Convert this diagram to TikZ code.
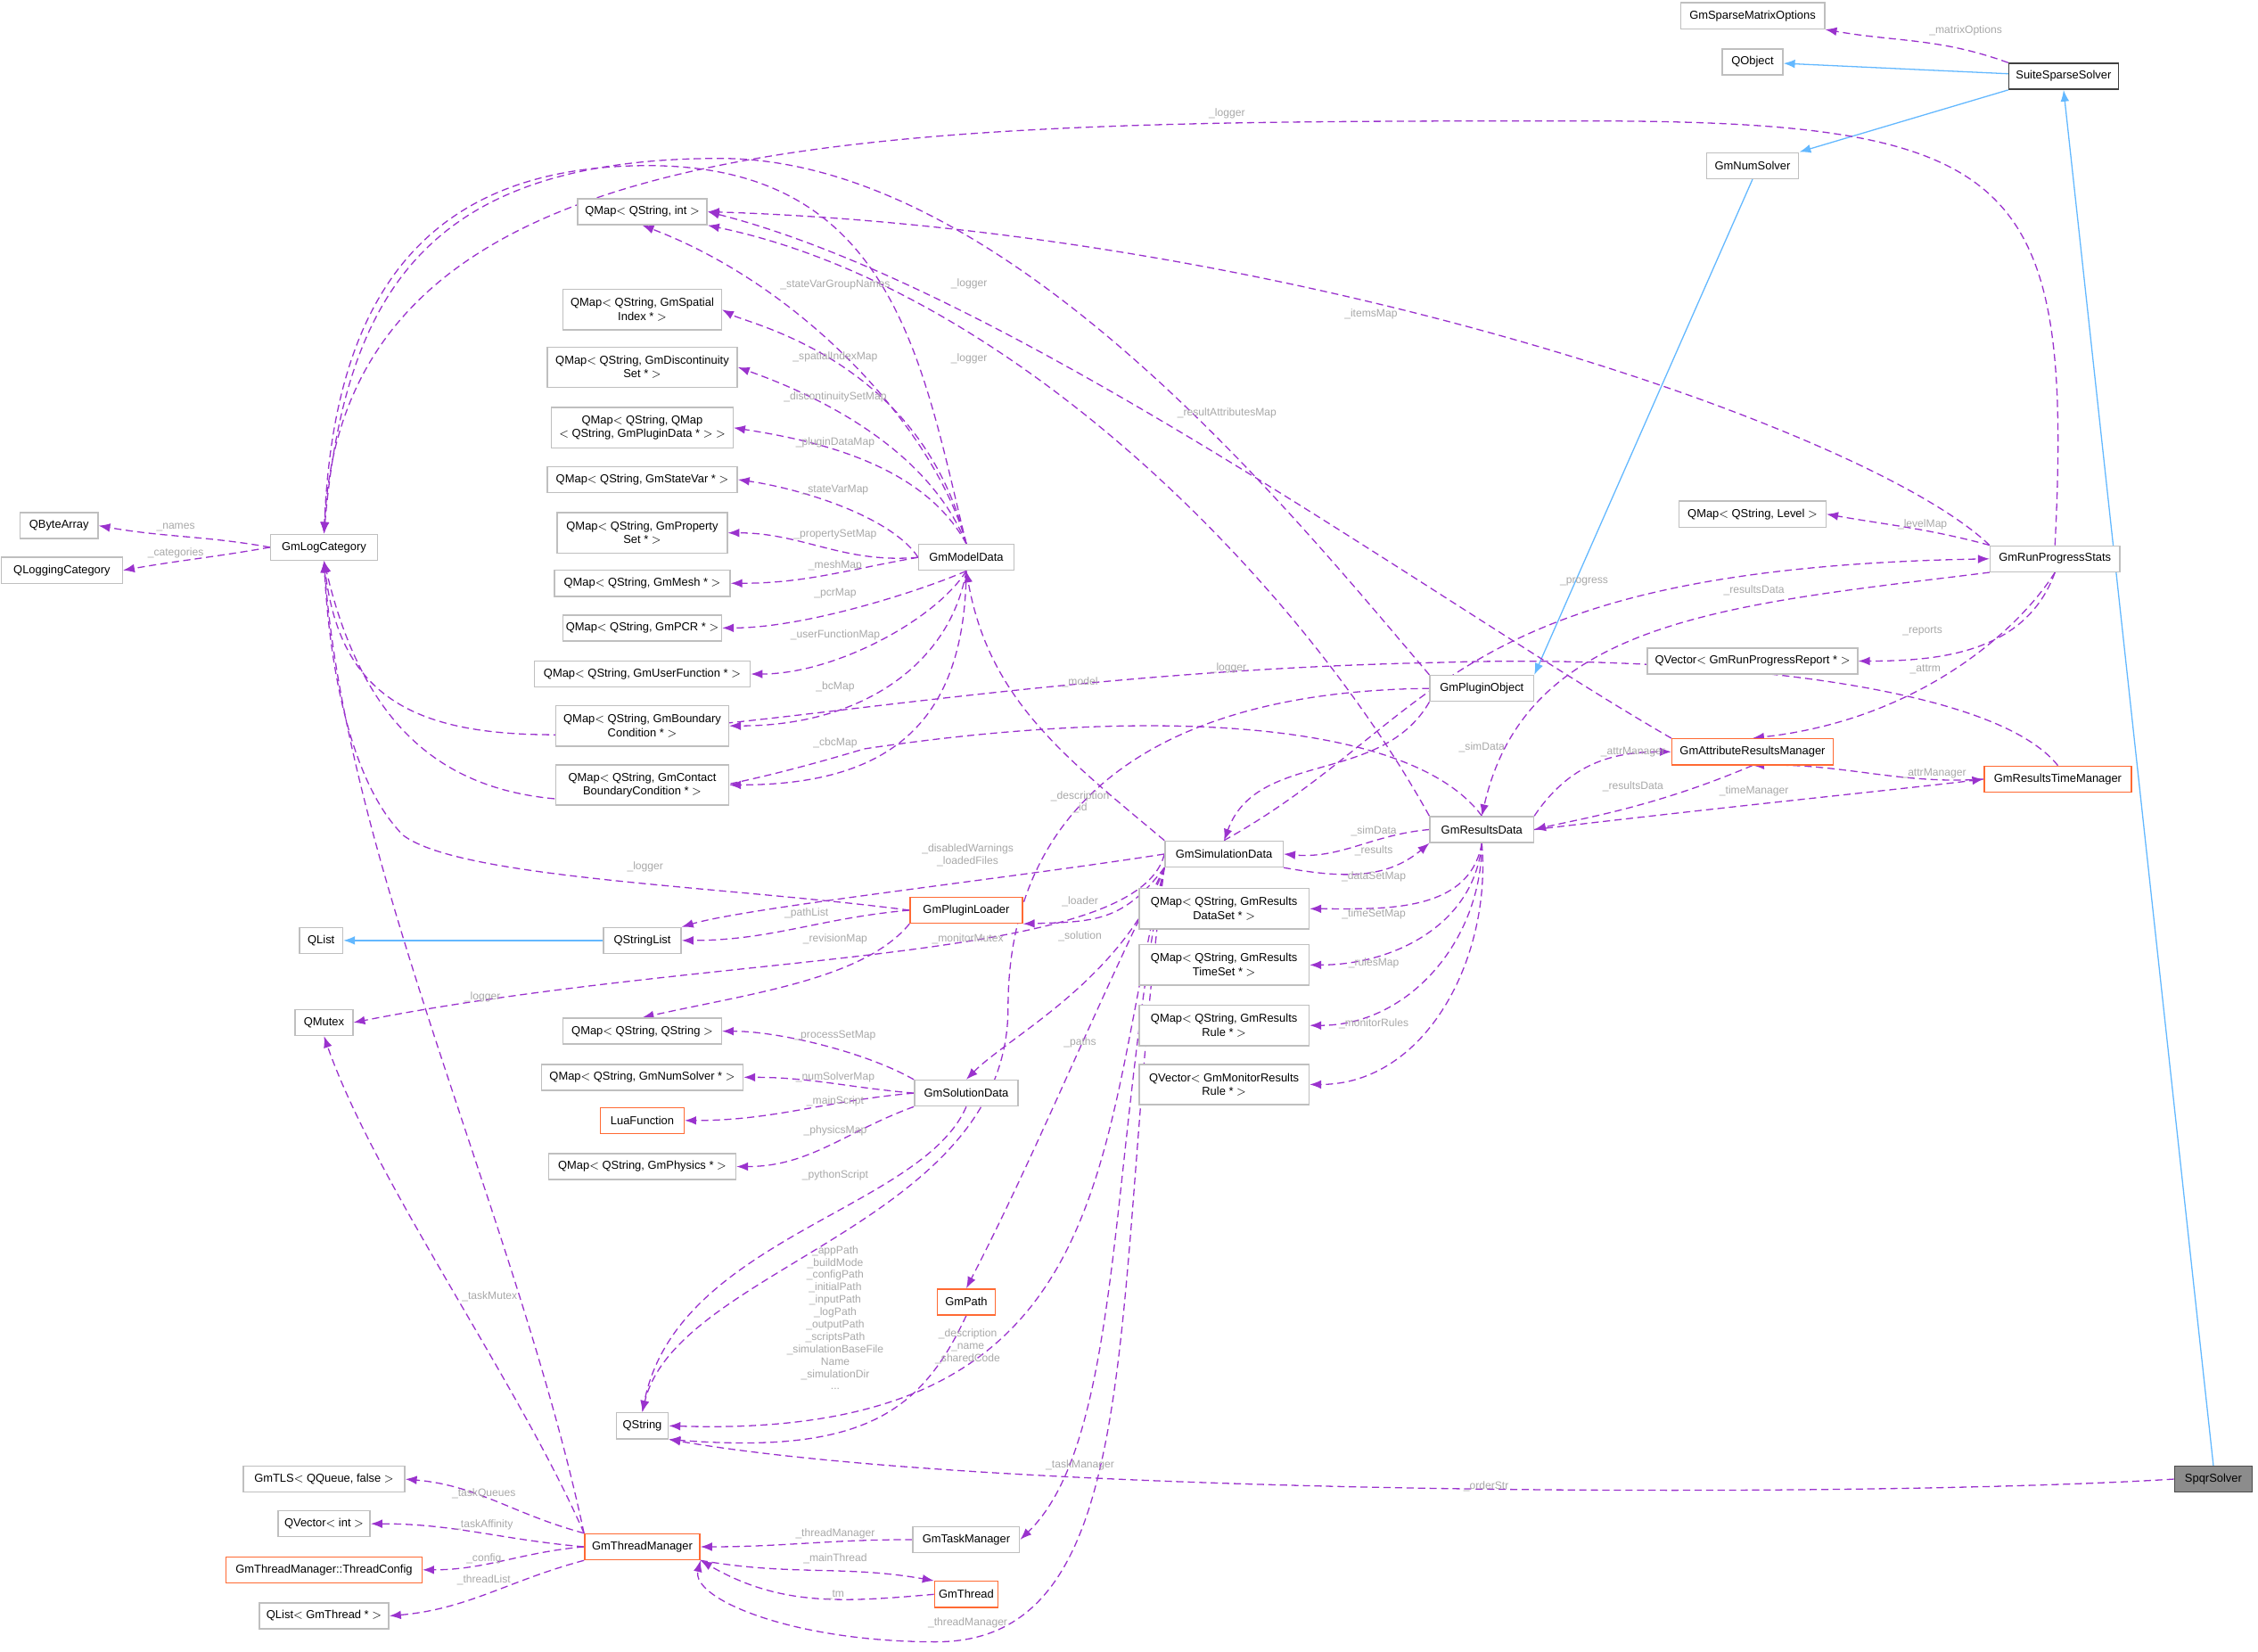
\documentclass[tikz,border=0pt]{standalone}
\usepackage{fontspec}
\setmainfont{Liberation Sans}
\usetikzlibrary{arrows.meta}
\definecolor{pur}{HTML}{9A32CD}
\definecolor{bord}{HTML}{BFBFBF}
\definecolor{org}{HTML}{FF6A33}
\definecolor{inhc}{HTML}{63B8FF}
\definecolor{lblc}{HTML}{A8A8A8}
\pgfdeclarelayer{bg}
\pgfsetlayers{bg,main}
\begin{document}
\begin{tikzpicture}[x=1pt,y=1pt,
 box/.style={draw=bord,fill=white,line width=0.9pt,minimum height=18pt,inner sep=2pt,font=\fontsize{8}{9.5}\selectfont,align=center},
 two/.style={box,minimum height=28pt},
 obox/.style={box,draw=org},
 dep/.style={draw=pur,dashed,dash pattern=on 5pt off 3pt,line width=0.8pt,-{Latex[length=8pt,width=6pt]}},
 inh/.style={draw=inhc,line width=0.8pt,-{Latex[length=8pt,width=6pt]}},
 lbl/.style={text=lblc,font=\fontsize{7.5}{8.6}\selectfont,align=center,inner sep=0pt}]
\useasboundingbox (0,0) rectangle (1568,-1147);
% nodes
\node[box,minimum width=100pt] (gsmo) at (1217,-11) {GmSparseMatrixOptions};
\node[box,minimum width=42pt] (qobj) at (1217,-43) {QObject};
\node[box,draw=black!75,minimum width=76pt] (suite) at (1433,-53) {SuiteSparseSolver};
\node[box,minimum width=64pt] (nums) at (1217,-115) {GmNumSolver};
\node[box,minimum width=90pt] (qmapint) at (446,-147) {QMap$<$ QString, int $>$};
\node[two,minimum width=110pt] (m1) at (446,-215) {QMap$<$ QString, GmSpatial\\Index * $>$};
\node[two,minimum width=132pt] (m2) at (446,-255) {QMap$<$ QString, GmDiscontinuity\\Set * $>$};
\node[two,minimum width=126pt] (m3) at (446,-297) {QMap$<$ QString, QMap\\$<$ QString, GmPluginData * $>$ $>$};
\node[box,minimum width=132pt] (m4) at (446,-333) {QMap$<$ QString, GmStateVar * $>$};
\node[two,minimum width=118pt] (m5) at (446,-370) {QMap$<$ QString, GmProperty\\Set * $>$};
\node[box,minimum width=122pt] (m6) at (446,-405) {QMap$<$ QString, GmMesh * $>$};
\node[box,minimum width=110pt] (m7) at (446,-436) {QMap$<$ QString, GmPCR * $>$};
\node[box,minimum width=150pt] (m8) at (446,-468) {QMap$<$ QString, GmUserFunction * $>$};
\node[two,minimum width=120pt] (m9) at (446,-504) {QMap$<$ QString, GmBoundary\\Condition * $>$};
\node[two,minimum width=120pt] (m10) at (446,-545) {QMap$<$ QString, GmContact\\BoundaryCondition * $>$};
\node[box,minimum width=54pt] (qba) at (41,-365) {QByteArray};
\node[box,minimum width=84pt] (qlc) at (43,-396) {QLoggingCategory};
\node[box,minimum width=74pt] (logcat) at (225,-380) {GmLogCategory};
\node[box,minimum width=66pt] (model) at (671,-387) {GmModelData};
\node[box,minimum width=30pt] (qlist) at (223,-653) {QList};
\node[box,minimum width=54pt] (qsl) at (446,-653) {QStringList};
\node[obox,minimum width=78pt] (loader) at (671,-632) {GmPluginLoader};
\node[box,minimum width=40pt] (qmutex) at (225,-710) {QMutex};
\node[box,minimum width=110pt] (mqs) at (446,-716) {QMap$<$ QString, QString $>$};
\node[box,minimum width=140pt] (mns) at (446,-748) {QMap$<$ QString, GmNumSolver * $>$};
\node[obox,minimum width=58pt] (lua) at (446,-778) {LuaFunction};
\node[box,minimum width=130pt] (mph) at (446,-810) {QMap$<$ QString, GmPhysics * $>$};
\node[box,minimum width=72pt] (sol) at (671,-759) {GmSolutionData};
\node[box,minimum width=36pt] (qstr) at (446,-990) {QString};
\node[obox,minimum width=40pt] (path) at (671,-904) {GmPath};
\node[box,minimum width=112pt] (tls) at (225,-1027) {GmTLS$<$ QQueue, false $>$};
\node[box,minimum width=64pt] (qvi) at (225,-1058) {QVector$<$ int $>$};
\node[obox,minimum width=136pt] (cfg) at (225,-1090) {GmThreadManager::ThreadConfig};
\node[box,minimum width=90pt] (qlt) at (225,-1122) {QList$<$ GmThread * $>$};
\node[obox,minimum width=80pt] (tm) at (446,-1074) {GmThreadManager};
\node[box,minimum width=74pt] (task) at (671,-1069) {GmTaskManager};
\node[obox,minimum width=44pt] (thr) at (671,-1107) {GmThread};
\node[box,minimum width=82pt] (sim) at (850,-593) {GmSimulationData};
\node[box,minimum width=72pt] (plug) at (1029,-478) {GmPluginObject};
\node[box,minimum width=72pt] (res) at (1029,-576) {GmResultsData};
\node[two,minimum width=118pt] (r1) at (850,-631) {QMap$<$ QString, GmResults\\DataSet * $>$};
\node[two,minimum width=118pt] (r2) at (850,-670) {QMap$<$ QString, GmResults\\TimeSet * $>$};
\node[two,minimum width=118pt] (r3) at (850,-712) {QMap$<$ QString, GmResults\\Rule * $>$};
\node[two,minimum width=118pt] (r4) at (850,-753) {QVector$<$ GmMonitorResults\\Rule * $>$};
\node[box,minimum width=102pt] (lev) at (1217,-357) {QMap$<$ QString, Level $>$};
\node[box,minimum width=90pt] (rps) at (1427,-388) {GmRunProgressStats};
\node[box,minimum width=146pt] (rep) at (1217,-459) {QVector$<$ GmRunProgressReport * $>$};
\node[obox,minimum width=112pt] (attr) at (1217,-522) {GmAttributeResultsManager};
\node[obox,minimum width=102pt] (rtm) at (1429,-541) {GmResultsTimeManager};
\node[box,fill=black!45,draw=black!70,minimum width=54pt] (spqr) at (1537,-1027) {SpqrSolver};
\begin{pgfonlayer}{bg}
% inheritance
\draw[inh] (suite) -- (qobj);
\draw[inh] (suite.south west) -- (nums.north east);
\draw[inh] (nums.south) -- (plug.north east);
\draw[inh] (spqr.north) -- (suite.south);
\draw[inh] (qsl) -- (qlist);
% dependencies
\draw[dep] (suite.north west) to[out=160,in=-10] (gsmo.south east);
\draw[dep] (rps.north) .. controls (1440,-120) and (1400,-84) .. (1100,-84) .. controls (600,-84) and (240,-84) .. (logcat.north);
\draw[dep] (rps.north west) .. controls (1300,-300) and (900,-160) .. (qmapint.east);
\draw[dep] (rps.north west) to[out=165,in=-10] (lev.east);
\draw[dep] (rps.south) to[out=-110,in=0] (rep.east);
\draw[dep] (rps.south) .. controls (1400,-440) and (1330,-500) .. (attr.north);
\draw[dep] (rps.south west) .. controls (1200,-420) and (1060,-430) .. (res.north);
\draw[dep] (sim.north) .. controls (1000,-500) and (1000,-395) .. (rps.west);
\draw[dep] (rtm.west) .. controls (1320,-545) and (1280,-530) .. (attr.south);
\draw[dep] (rtm.north) .. controls (1380,-470) and (1150,-455) .. (1000,-460) .. controls (500,-470) and (250,-600) .. (logcat.south);
\draw[dep] (attr.north west) .. controls (1000,-420) and (700,-200) .. (qmapint.east);
\draw[dep] (attr.south) .. controls (1150,-560) and (1100,-568) .. (res.east);
\draw[dep] (res.north east) .. controls (1090,-530) and (1120,-522) .. (attr.west);
\draw[dep] (res.east) .. controls (1200,-560) and (1320,-548) .. (rtm.west);
\draw[dep] (res.west) to[out=185,in=-5] (sim.east);
\draw[dep] (sim.south east) to[out=-10,in=-140] (res.south west);
\draw[dep] (res.south) to[out=-100,in=0] (r1.east);
\draw[dep] (res.south) to[out=-95,in=0] (r2.east);
\draw[dep] (res.south) to[out=-90,in=0] (r3.east);
\draw[dep] (res.south) to[out=-85,in=0] (r4.east);
\draw[dep] (res.north) .. controls (980,-500) and (800,-490) .. (600,-520) .. controls (400,-580) and (270,-580) .. (logcat.south);
\draw[dep] (res.north west) .. controls (900,-400) and (700,-200) .. (qmapint.south east);
\draw[dep] (plug.north west) .. controls (900,-360) and (700,-110) .. (500,-110) .. controls (300,-110) and (240,-200) .. (logcat.north);
\draw[dep] (plug.south west) to[out=-120,in=70] (sim.north);
\draw[dep] (sim.north west) to[out=140,in=-80] (model.south);
\draw[dep] (model.north) .. controls (640,-250) and (520,-225) .. (m1.east);
\draw[dep] (model.north) .. controls (640,-300) and (540,-265) .. (m2.east);
\draw[dep] (model.north) .. controls (640,-320) and (560,-305) .. (m3.east);
\draw[dep] (model.west) .. controls (620,-360) and (560,-340) .. (m4.east);
\draw[dep] (model.west) to[out=185,in=0] (m5.east);
\draw[dep] (model.west) to[out=190,in=0] (m6.east);
\draw[dep] (model.south) .. controls (640,-410) and (560,-436) .. (m7.east);
\draw[dep] (model.south) .. controls (650,-430) and (580,-468) .. (m8.east);
\draw[dep] (model.south) .. controls (660,-460) and (600,-504) .. (m9.east);
\draw[dep] (model.south) .. controls (670,-500) and (620,-545) .. (m10.east);
\draw[dep] (model.north) .. controls (650,-300) and (560,-200) .. (qmapint.south);
\draw[dep] (model.north) .. controls (640,-250) and (620,-115) .. (450,-115) .. controls (300,-115) and (232,-200) .. (logcat.north);
\draw[dep] (logcat.west) to[out=170,in=-10] (qba.east);
\draw[dep] (logcat.west) to[out=190,in=10] (qlc.east);
\draw[dep] (loader.west) .. controls (500,-615) and (320,-610) .. (280,-580) .. controls (240,-540) and (228,-450) .. (logcat.south);
\draw[dep] (loader.west) to[out=185,in=0] (qsl.east);
\draw[dep] (loader.south west) .. controls (600,-680) and (520,-690) .. (mqs.north);
\draw[dep] (sim.west) .. controls (700,-610) and (520,-630) .. (qsl.north east);
\draw[dep] (sim.south west) .. controls (780,-640) and (760,-640) .. (loader.south east);
\draw[dep] (sim.west) .. controls (790,-670) and (500,-660) .. (qmutex.east);
\draw[dep] (sim.south west) .. controls (780,-680) and (700,-720) .. (sol.north);
\draw[dep] (sim.south west) .. controls (760,-700) and (720,-800) .. (path.north);
\draw[dep] (sim.south west) .. controls (760,-800) and (780,-1000) .. (qstr.east);
\draw[dep] (sim.south west) .. controls (770,-800) and (780,-1000) .. (task.east);
\draw[dep] (sim.south west) .. controls (770,-900) and (800,-1140) .. (650,-1140) .. controls (550,-1140) and (480,-1110) .. (tm.south east);
\draw[dep] (plug.west) .. controls (800,-480) and (700,-560) .. (700,-700) .. controls (700,-850) and (470,-880) .. (qstr.north);
\draw[dep] (sol.north west) .. controls (600,-730) and (540,-716) .. (mqs.east);
\draw[dep] (sol.west) to[out=175,in=0] (mns.east);
\draw[dep] (sol.west) to[out=185,in=0] (lua.east);
\draw[dep] (sol.south west) to[out=-160,in=0] (mph.east);
\draw[dep] (sol.south) .. controls (640,-840) and (470,-860) .. (qstr.north);
\draw[dep] (path.south) .. controls (640,-980) and (600,-1010) .. (qstr.south east);
\draw[dep] (spqr.west) .. controls (1300,-1040) and (700,-1040) .. (qstr.south east);
\draw[dep] (tm.north west) .. controls (360,-960) and (260,-820) .. (qmutex.south);
\draw[dep] (tm.north west) .. controls (360,-850) and (240,-600) .. (logcat.south);
\draw[dep] (tm.north west) to[out=165,in=-5] (tls.east);
\draw[dep] (tm.west) to[out=175,in=0] (qvi.east);
\draw[dep] (tm.west) to[out=185,in=0] (cfg.east);
\draw[dep] (tm.south west) to[out=-165,in=5] (qlt.east);
\draw[dep] (tm.south east) to[out=-10,in=170] (thr.north west);
\draw[dep] (thr.west) to[out=185,in=-30] (tm.south east);
\draw[dep] (task.west) to[out=180,in=0] (tm.east);
\end{pgfonlayer}
% labels
\node[lbl] at (1365,-21) {\_matrixOptions};
\node[lbl] at (852,-79) {\_logger};
\node[lbl] at (952,-218) {\_itemsMap};
\node[lbl] at (1335,-364) {\_levelMap};
\node[lbl] at (1335,-438) {\_reports};
\node[lbl] at (1337,-465) {\_attrm};
\node[lbl] at (1218,-410) {\_resultsData};
\node[lbl] at (1100,-404) {\_progress};
\node[lbl] at (1343,-537) {\_attrManager};
\node[lbl] at (853,-464) {\_logger};
\node[lbl] at (852,-287) {\_resultAttributesMap};
\node[lbl] at (1134,-546) {\_resultsData};
\node[lbl] at (1134,-522) {\_attrManager};
\node[lbl] at (1218,-549) {\_timeManager};
\node[lbl] at (954,-577) {\_simData};
\node[lbl] at (954,-591) {\_results};
\node[lbl] at (954,-609) {\_dataSetMap};
\node[lbl] at (954,-635) {\_timeSetMap};
\node[lbl] at (954,-669) {\_rulesMap};
\node[lbl] at (954,-711) {\_monitorRules};
\node[lbl] at (673,-249) {\_logger};
\node[lbl] at (673,-197) {\_logger};
\node[lbl] at (1029,-519) {\_simData};
\node[lbl] at (750,-474) {\_model};
\node[lbl] at (580,-248) {\_spatialIndexMap};
\node[lbl] at (580,-276) {\_discontinuitySetMap};
\node[lbl] at (580,-307) {\_pluginDataMap};
\node[lbl] at (580,-340) {\_stateVarMap};
\node[lbl] at (580,-371) {\_propertySetMap};
\node[lbl] at (580,-393) {\_meshMap};
\node[lbl] at (580,-412) {\_pcrMap};
\node[lbl] at (580,-441) {\_userFunctionMap};
\node[lbl] at (580,-477) {\_bcMap};
\node[lbl] at (580,-516) {\_cbcMap};
\node[lbl] at (580,-198) {\_stateVarGroupNames};
\node[lbl] at (122,-366) {\_names};
\node[lbl] at (122,-384) {\_categories};
\node[lbl] at (448,-602) {\_logger};
\node[lbl] at (560,-634) {\_pathList};
\node[lbl] at (580,-652) {\_revisionMap};
\node[lbl] at (672,-594) {\_disabledWarnings\\\_loadedFiles};
\node[lbl] at (750,-626) {\_loader};
\node[lbl] at (672,-652) {\_monitorMutex};
\node[lbl] at (750,-650) {\_solution};
\node[lbl] at (750,-724) {\_paths};
\node[lbl] at (580,-915) {\_appPath\\\_buildMode\\\_configPath\\\_initialPath\\\_inputPath\\\_logPath\\\_outputPath\\\_scriptsPath\\\_simulationBaseFile\\Name\\\_simulationDir\\...};
\node[lbl] at (750,-1017) {\_taskManager};
\node[lbl] at (672,-1127) {\_threadManager};
\node[lbl] at (750,-557) {\_description\\\_id};
\node[lbl] at (580,-719) {\_processSetMap};
\node[lbl] at (580,-748) {\_numSolverMap};
\node[lbl] at (580,-765) {\_mainScript};
\node[lbl] at (580,-785) {\_physicsMap};
\node[lbl] at (580,-816) {\_pythonScript};
\node[lbl] at (672,-935) {\_description\\\_name\\\_sharedCode};
\node[lbl] at (1032,-1032) {\_orderStr};
\node[lbl] at (340,-900) {\_taskMutex};
\node[lbl] at (335,-692) {\_logger};
\node[lbl] at (336,-1037) {\_taskQueues};
\node[lbl] at (336,-1059) {\_taskAffinity};
\node[lbl] at (336,-1082) {\_config};
\node[lbl] at (336,-1097) {\_threadList};
\node[lbl] at (580,-1082) {\_mainThread};
\node[lbl] at (580,-1107) {\_tm};
\node[lbl] at (580,-1065) {\_threadManager};
\end{tikzpicture}
\end{document}
